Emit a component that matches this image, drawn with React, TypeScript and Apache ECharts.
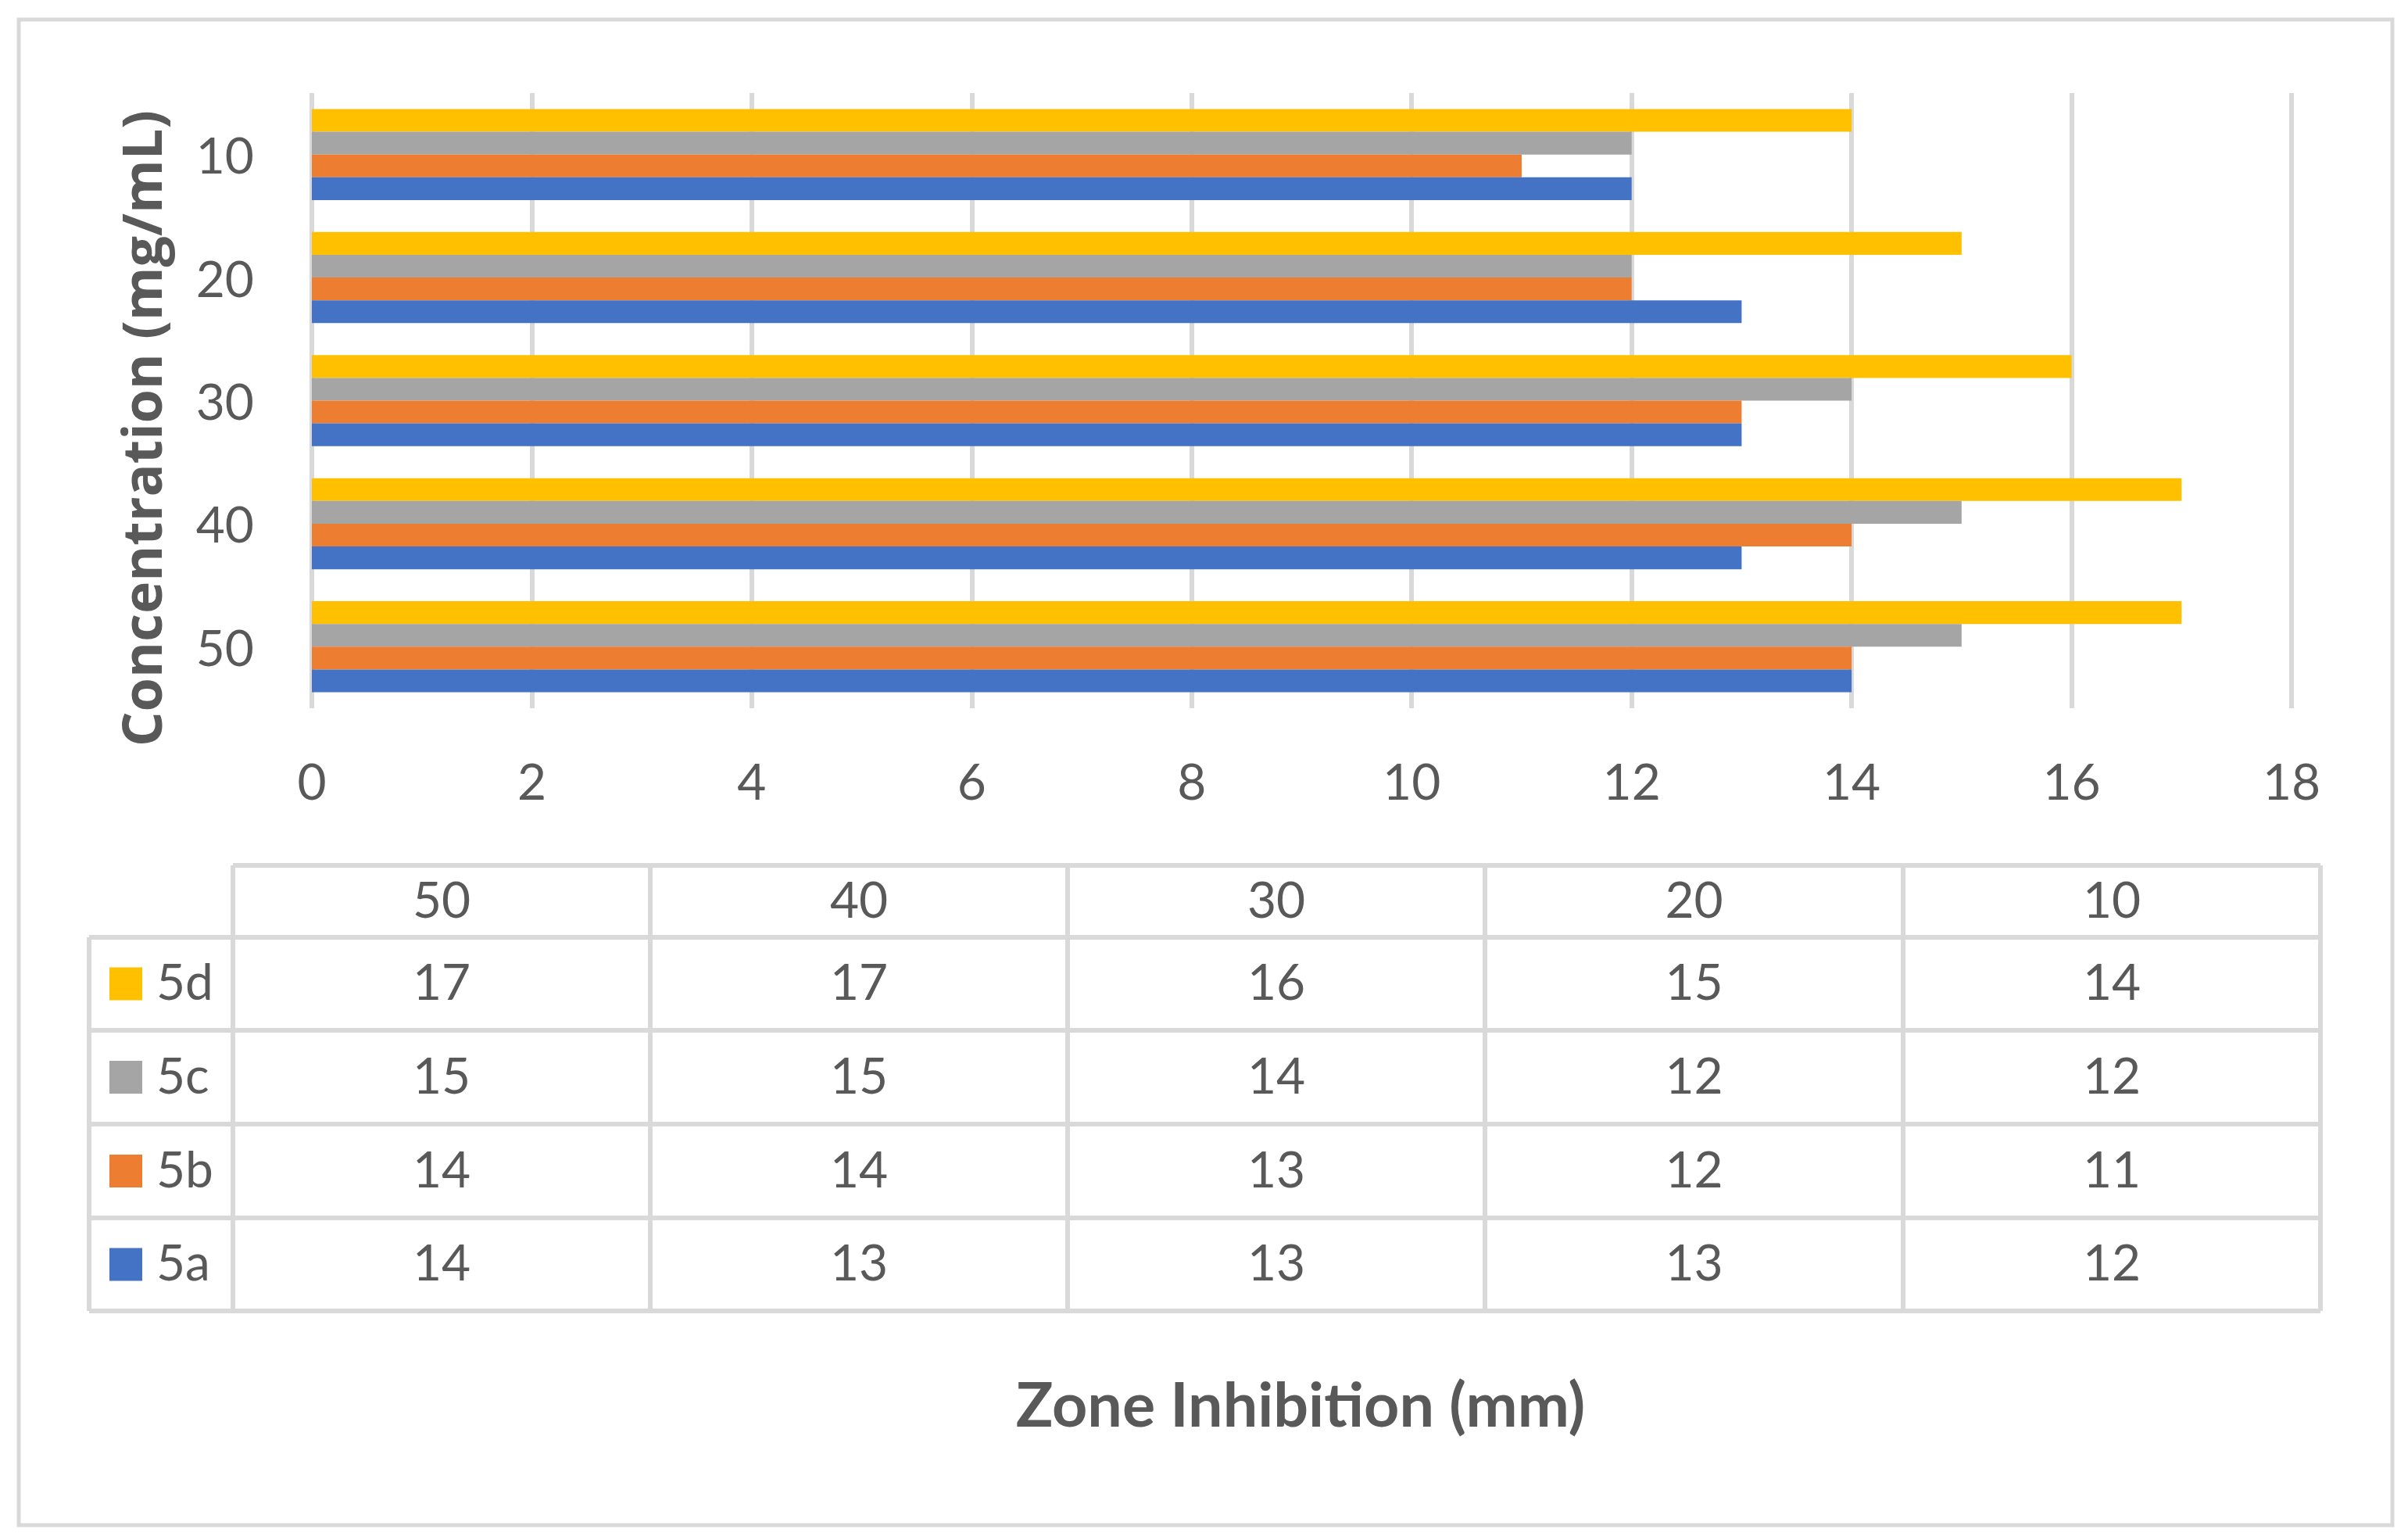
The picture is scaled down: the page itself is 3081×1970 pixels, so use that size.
import React, { useEffect, useRef } from "react";
import * as echarts from "echarts";

const categories = ["50", "40", "30", "20", "10"];
const seriesNames = ["5d", "5c", "5b", "5a"];
const values5d = [17, 17, 16, 15, 14];
const values5c = [15, 15, 14, 12, 12];
const values5b = [14, 14, 13, 12, 11];
const values5a = [14, 13, 13, 13, 12];
const seriesValues = [values5d, values5c, values5b, values5a];
const seriesColors = ["#FFC000", "#A5A5A5", "#ED7D31", "#4472C4"];
const xMin = 0;
const xMax = 18;
const xInterval = 2;
const xTitle = "Zone Inhibition (mm)";
const yTitle = "Concentration (mg/mL)";

const W = 3081;
const H = 1970;
const TEXT = "#595959";
const LINE = "#D9D9D9";
const FONT = "Lato, 'Open Sans', sans-serif";
const FONT_Y = "'Open Sans', Lato, sans-serif";

export default function App() {
  const ref = useRef<HTMLDivElement>(null);
  useEffect(() => {
    if (!ref.current) return;
    const chart = echarts.init(ref.current, null, { renderer: "svg", width: W, height: H });

    // table layout
    const colX = [298, 832, 1366, 1900, 2435, 2969];
    const rowY = [1107, 1199, 1318, 1438, 1558, 1677];
    const rowLeft = 114;
    const lw = 6;
    const g: any[] = [];
    const line = (x1: number, y1: number, x2: number, y2: number) =>
      g.push({ type: "line", shape: { x1, y1, x2, y2 }, style: { stroke: LINE, lineWidth: lw }, z: 10 });
    line(colX[0], rowY[0], colX[5], rowY[0]);
    for (let r = 1; r < rowY.length; r++) line(rowLeft, rowY[r], colX[5], rowY[r]);
    line(rowLeft, rowY[1], rowLeft, rowY[5]);
    for (let c = 0; c < colX.length; c++) line(colX[c], rowY[0], colX[c], rowY[5]);
    const txt = (text: string, x: number, y: number, size: number, weight: string, align: string, rotation = 0, family = FONT) =>
      g.push({
        type: "text",
        x,
        y,
        rotation,
        z: 11,
        style: {
          text,
          fill: TEXT,
          fontSize: size,
          fontFamily: family,
          fontWeight: weight,
          align,
          verticalAlign: "middle",
          textAlign: align,
          textVerticalAlign: "middle",
        },
      });
    const dy = -4;
    categories.forEach((c, i) => {
      txt(c, (colX[i] + colX[i + 1]) / 2, (rowY[0] + rowY[1]) / 2 + dy, 64, "normal", "center");
    });
    seriesNames.forEach((name, r) => {
      const cy = (rowY[r + 1] + rowY[r + 2]) / 2;
      g.push({
        type: "rect",
        shape: { x: 140, y: cy - 21, width: 42, height: 42 },
        style: { fill: seriesColors[r] },
        z: 11,
      });
      txt(name, 200, cy + dy, 64, "normal", "left");
      seriesValues[r].forEach((v, i) => {
        txt(String(v), (colX[i] + colX[i + 1]) / 2, cy + dy, 64, "normal", "center");
      });
    });
    // outer border
    g.push({
      type: "rect",
      shape: { x: 24, y: 25, width: 3037, height: 1926 },
      style: { fill: "none", stroke: LINE, lineWidth: 5 },
      z: 1,
    });
    txt(xTitle, 1664, 1794, 79, "bold", "center");
    txt(yTitle, 180, 548, 70, "bold", "center", Math.PI / 2, FONT_Y);

    chart.setOption({
      animation: false,
      backgroundColor: "#ffffff",
      grid: { left: 399, right: W - 2932, top: 119, bottom: H - 906, containLabel: false },
      xAxis: {
        type: "value",
        min: xMin,
        max: xMax,
        interval: xInterval,
        axisLine: { show: false },
        axisTick: { show: false },
        splitLine: { show: true, lineStyle: { color: LINE, width: 6 } },
        axisLabel: { color: TEXT, fontSize: 64, fontFamily: FONT, margin: 60 },
      },
      yAxis: {
        type: "category",
        data: categories,
        axisLine: { show: false },
        axisTick: { show: false },
        splitLine: { show: false },
        axisLabel: { color: TEXT, fontSize: 64, fontFamily: FONT, margin: 74 },
      },
      series: seriesNames.map((name, i) => ({
        name,
        type: "bar",
        data: seriesValues[i],
        itemStyle: { color: seriesColors[i] },
        barGap: "0%",
        barCategoryGap: "26%",
      })),
      graphic: g,
    });
    return () => chart.dispose();
  }, []);
  return <div ref={ref} style={{ position: "fixed", left: 0, top: 0, width: W, height: H }} />;
}
